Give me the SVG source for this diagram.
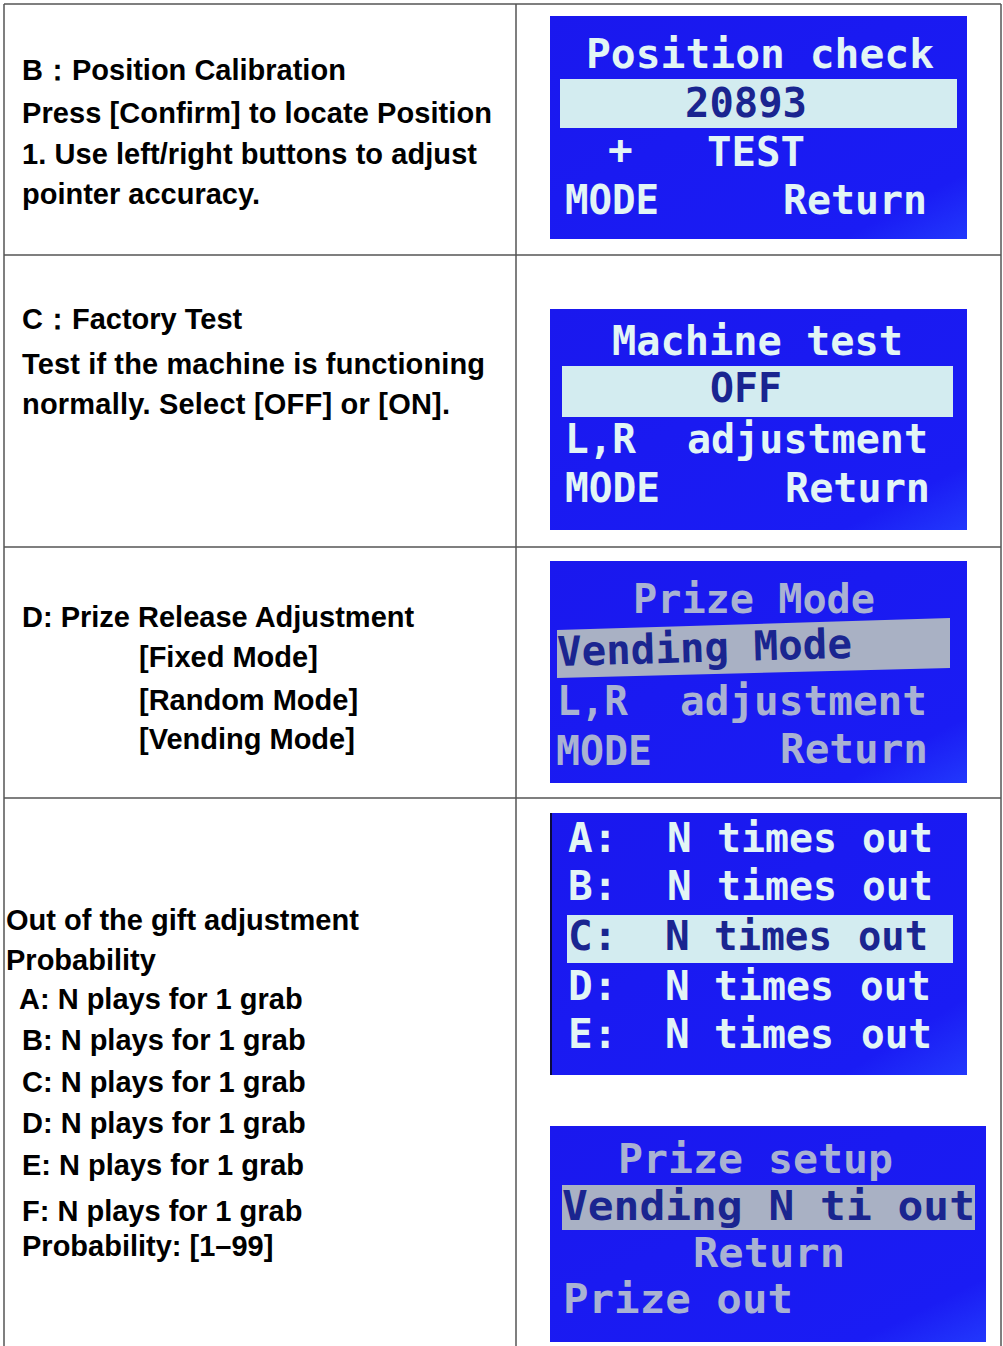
<svg xmlns="http://www.w3.org/2000/svg" width="1003" height="1346" viewBox="0 0 1003 1346">
<style>
.t{font-family:"Liberation Sans",Arial,sans-serif;font-weight:bold;font-size:29px;fill:#000}
.grid line{stroke:#555;stroke-width:1.5}
.lcdbg{fill:url(#blue)}
.l{font-family:"DejaVu Sans Mono",monospace;font-weight:bold;font-size:41px;fill:#e2f5f5}
.dim{fill:#a9b2d2}
.dk{fill:#1a2590}
.bar{fill:#d3ecf0}
.gbar{fill:#a9b1c4}
</style>
<defs>
<linearGradient id="blue" x1="0" y1="0" x2="1" y2="1">
<stop offset="0" stop-color="#1a18ee"/>
<stop offset="0.85" stop-color="#1a1cf4"/>
<stop offset="1" stop-color="#2238fc"/>
</linearGradient>
</defs>
<rect width="1003" height="1346" fill="#fff"/>
<g class="grid" id="grid">
<line x1="4" y1="4" x2="1001" y2="4"/>
<line x1="4" y1="4" x2="4" y2="1346"/>
<line x1="1001" y1="4" x2="1001" y2="1346"/>
<line x1="516" y1="4" x2="516" y2="1346"/>
<line x1="4" y1="255" x2="1001" y2="255"/>
<line x1="4" y1="547" x2="1001" y2="547"/>
<line x1="4" y1="798" x2="1001" y2="798"/>
</g>
<g id="connectors"/>
<g id="text-b">
<text class="t" x="22" y="80">B：Position Calibration</text>
<text class="t" x="22" y="123" textLength="470">Press [Confirm] to locate Position</text>
<text class="t" x="22" y="164" textLength="455">1. Use left/right buttons to adjust</text>
<text class="t" x="22" y="204">pointer accuracy.</text>
</g>
<g id="text-c">
<text class="t" x="22" y="329">C：Factory Test</text>
<text class="t" x="22" y="374" textLength="463">Test if the machine is functioning</text>
<text class="t" x="22" y="414" textLength="428">normally. Select [OFF] or [ON].</text>
</g>
<g id="text-d">
<text class="t" x="22" y="627">D: Prize Release Adjustment</text>
<text class="t" x="139" y="667">[Fixed Mode]</text>
<text class="t" x="139" y="710">[Random Mode]</text>
<text class="t" x="139" y="749">[Vending Mode]</text>
</g>
<g id="text-prob">
<text class="t" x="6" y="930">Out of the gift adjustment</text>
<text class="t" x="6" y="970">Probability</text>
<text class="t" x="19" y="1009">A: N plays for 1 grab</text>
<text class="t" x="22" y="1050">B: N plays for 1 grab</text>
<text class="t" x="22" y="1092">C: N plays for 1 grab</text>
<text class="t" x="22" y="1133">D: N plays for 1 grab</text>
<text class="t" x="22" y="1175">E: N plays for 1 grab</text>
<text class="t" x="22" y="1221">F: N plays for 1 grab</text>
<text class="t" x="22" y="1256">Probability: [1–99]</text>
</g>
<g id="lcd-position">
<rect class="lcdbg" x="550" y="16" width="417" height="223"/>
<text class="l" x="586" y="68" textLength="348" lengthAdjust="spacingAndGlyphs">Position check</text>
<rect class="bar" x="560" y="79" width="397" height="49"/>
<text class="l dk" x="685" y="117" textLength="122" lengthAdjust="spacingAndGlyphs">20893</text>
<text class="l" x="608" y="164">+</text>
<text class="l" x="707" y="166" textLength="98" lengthAdjust="spacingAndGlyphs">TEST</text>
<text class="l" x="565" y="214" textLength="94" lengthAdjust="spacingAndGlyphs">MODE</text>
<text class="l" x="783" y="214" textLength="144" lengthAdjust="spacingAndGlyphs">Return</text>
</g>
<g id="lcd-machine">
<rect class="lcdbg" x="550" y="309" width="417" height="221"/>
<text class="l" x="612" y="355" textLength="291" lengthAdjust="spacingAndGlyphs">Machine test</text>
<rect class="bar" x="562" y="366" width="391" height="51"/>
<text class="l dk" x="710" y="402" textLength="72" lengthAdjust="spacingAndGlyphs">OFF</text>
<text class="l" x="565" y="453" textLength="71" lengthAdjust="spacingAndGlyphs">L,R</text>
<text class="l" x="687" y="453" textLength="241" lengthAdjust="spacingAndGlyphs">adjustment</text>
<text class="l" x="565" y="502" textLength="95" lengthAdjust="spacingAndGlyphs">MODE</text>
<text class="l" x="785" y="502" textLength="145" lengthAdjust="spacingAndGlyphs">Return</text>
</g>
<g id="lcd-prize-mode">
<rect class="lcdbg" x="550" y="561" width="417" height="222"/>
<text class="l dim" x="633" y="613" textLength="242" lengthAdjust="spacingAndGlyphs">Prize Mode</text>
<polygon class="gbar" points="557,630 950,618 950,668 557,678"/>
<text class="l dk" x="557" y="662" textLength="295" lengthAdjust="spacingAndGlyphs" transform="rotate(-1.6 700 650)">Vending Mode</text>
<text class="l dim" x="557" y="715" textLength="71" lengthAdjust="spacingAndGlyphs">L,R</text>
<text class="l dim" x="680" y="715" textLength="247" lengthAdjust="spacingAndGlyphs">adjustment</text>
<text class="l dim" x="556" y="765" textLength="96" lengthAdjust="spacingAndGlyphs">MODE</text>
<text class="l dim" x="780" y="763" textLength="148" lengthAdjust="spacingAndGlyphs">Return</text>
</g>
<g id="lcd-times">
<rect class="lcdbg" x="550" y="813" width="417" height="262"/>
<line x1="551" y1="813" x2="551" y2="1075" stroke="#0a0a40" stroke-width="2"/>
<text class="l" x="568" y="852">A:</text>
<text class="l" x="667" y="852">N</text>
<text class="l" x="717" y="852" textLength="120" lengthAdjust="spacingAndGlyphs">times</text>
<text class="l" x="862" y="852" textLength="71" lengthAdjust="spacingAndGlyphs">out</text>
<text class="l" x="568" y="900">B:</text>
<text class="l" x="667" y="900">N</text>
<text class="l" x="717" y="900" textLength="120" lengthAdjust="spacingAndGlyphs">times</text>
<text class="l" x="862" y="900" textLength="71" lengthAdjust="spacingAndGlyphs">out</text>
<rect class="bar" x="567" y="915" width="386" height="48"/>
<text class="l dk" x="568" y="950">C:</text>
<text class="l dk" x="665" y="950">N</text>
<text class="l dk" x="714" y="950" textLength="118" lengthAdjust="spacingAndGlyphs">times</text>
<text class="l dk" x="858" y="950" textLength="70" lengthAdjust="spacingAndGlyphs">out</text>
<text class="l" x="568" y="1000">D:</text>
<text class="l" x="665" y="1000">N</text>
<text class="l" x="714" y="1000" textLength="120" lengthAdjust="spacingAndGlyphs">times</text>
<text class="l" x="860" y="1000" textLength="71" lengthAdjust="spacingAndGlyphs">out</text>
<text class="l" x="568" y="1048">E:</text>
<text class="l" x="665" y="1048">N</text>
<text class="l" x="714" y="1048" textLength="120" lengthAdjust="spacingAndGlyphs">times</text>
<text class="l" x="861" y="1048" textLength="71" lengthAdjust="spacingAndGlyphs">out</text>
</g>
<g id="lcd-prize-setup">
<rect class="lcdbg" x="550" y="1126" width="436" height="216"/>
<text class="l dim" x="618" y="1173" textLength="275" lengthAdjust="spacingAndGlyphs">Prize setup</text>
<rect class="gbar" x="562" y="1185" width="413" height="45"/>
<text class="l dk" x="562" y="1220" textLength="413" lengthAdjust="spacingAndGlyphs">Vending N ti out</text>
<text class="l dim" x="693" y="1267" textLength="152" lengthAdjust="spacingAndGlyphs">Return</text>
<text class="l dim" x="563" y="1313" textLength="230" lengthAdjust="spacingAndGlyphs">Prize out</text>
</g>
</svg>
